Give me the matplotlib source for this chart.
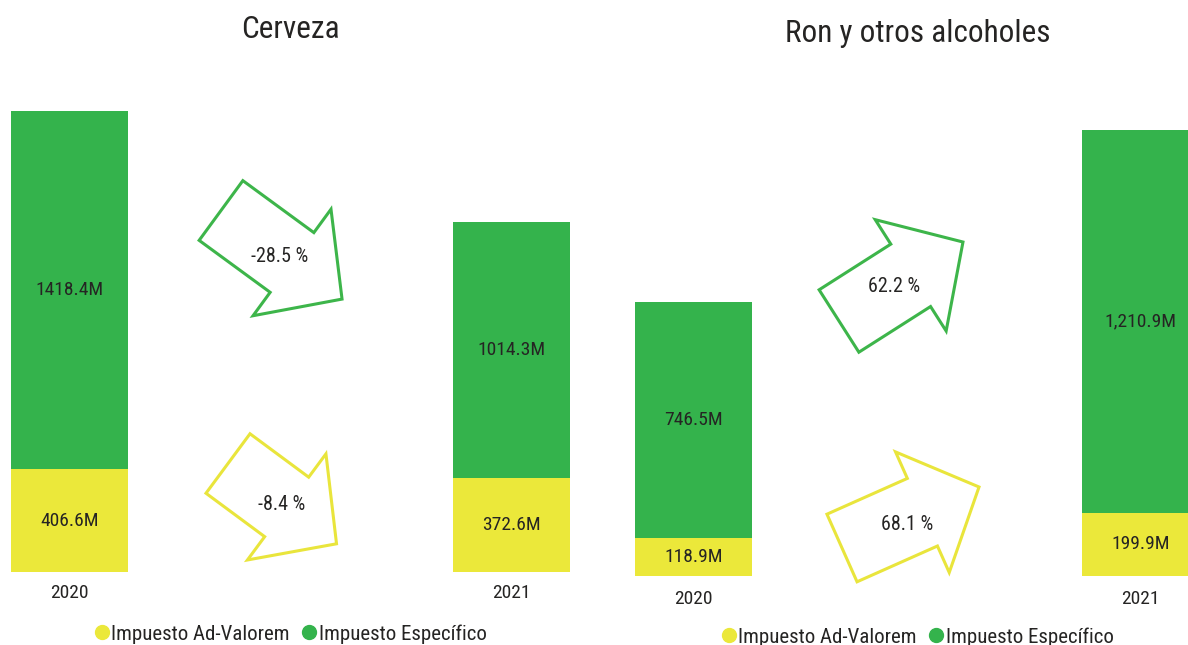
import matplotlib
matplotlib.use("Agg")
import matplotlib.pyplot as plt
from matplotlib import font_manager
from matplotlib.patches import Polygon
from matplotlib.lines import Line2D
import numpy as np

# ---------------- data ----------------
years = ["2020", "2021"]
cerveza_advalorem = [406.6, 372.6]
cerveza_especifico = [1418.4, 1014.3]
ron_advalorem = [118.9, 199.9]
ron_especifico = [746.5, 1210.9]
series_names = ["Impuesto Ad-Valorem", "Impuesto Específico"]
titles = ["Cerveza", "Ron y otros alcoholes"]

# ---------------- style ----------------
YELLOW = "#EBE83A"
GREEN = "#34B34C"
ARROW_GREEN = "#3DB54A"
ARROW_YELLOW = "#E9E53C"
TEXT = "#252423"

available = {f.name for f in font_manager.fontManager.ttflist}
FONT = "DejaVu Sans"
for cand in ["Roboto Condensed", "Liberation Sans Narrow", "DejaVu Sans Condensed", "Roboto"]:
    if cand in available:
        FONT = cand
        break
plt.rcParams["font.family"] = [FONT, "DejaVu Sans"]

W, H = 1188, 645
fig = plt.figure(figsize=(W / 100, H / 100), dpi=100)

LABEL_FS = 14
YEAR_FS = 14
PCT_FS = 14.5
TITLE_FS = 22.5
LEGEND_FS = 15


def px_axes(x0, x1, ytop, ybot):
    return fig.add_axes([x0 / W, 1 - ybot / H, (x1 - x0) / W, (ybot - ytop) / H])


def draw_group(ax, w, adv, esp, fmt, label_pad):
    x = np.arange(len(years))
    ax.bar(x, adv, width=w, color=YELLOW, linewidth=0)
    ax.bar(x, esp, width=w, bottom=adv, color=GREEN, linewidth=0)
    totals = np.array(adv) + np.array(esp)
    ax.set_xlim(-w / 2, len(years) - 1 + w / 2)
    ax.set_ylim(0, totals.max())
    for xi, a, e in zip(x, adv, esp):
        ax.text(xi, a / 2, fmt.format(a), ha="center", va="center", fontsize=LABEL_FS, color=TEXT)
        ax.text(xi, a + e / 2, fmt.format(e), ha="center", va="center", fontsize=LABEL_FS, color=TEXT)
    ax.set_xticks(x)
    ax.set_xticklabels(years, fontsize=YEAR_FS, color=TEXT)
    ax.tick_params(axis="x", length=0, pad=label_pad)
    ax.set_yticks([])
    for s in ax.spines.values():
        s.set_visible(False)
    ax.patch.set_alpha(0)


ax1 = px_axes(11, 570, 111, 572)
ax2 = px_axes(635, 1199, 130, 576)
draw_group(ax1, 117 / 442, cerveza_advalorem, cerveza_especifico, "{:.1f}M", 9)
draw_group(ax2, 117 / 447, ron_advalorem, ron_especifico, "{:,.1f}M", 10)

# titles
fig.text(290 / W, 1 - 30 / H, titles[0], ha="center", va="center", fontsize=TITLE_FS, color=TEXT)
fig.text(918 / W, 1 - 33 / H, titles[1], ha="center", va="center", fontsize=TITLE_FS, color=TEXT)


# arrows (decorative shapes): tail midpoint, angle (deg, y down), length
def arrow(tail, ang, L, color, label, label_pos):
    s, Hh, h = 37, 66, 62
    local = np.array([(0, s), (L - h, s), (L - h, Hh), (L, 0), (L - h, -Hh), (L - h, -s), (0, -s)])
    a = np.deg2rad(ang)
    R = np.array([[np.cos(a), -np.sin(a)], [np.sin(a), np.cos(a)]])
    pts = local @ R.T + np.array(tail)
    pts_fig = np.column_stack([pts[:, 0] / W, 1 - pts[:, 1] / H])
    fig.patches.append(Polygon(pts_fig, closed=True, fill=False, edgecolor=color, linewidth=2.2,
                               transform=fig.transFigure, joinstyle="miter"))
    fig.text(label_pos[0] / W, 1 - label_pos[1] / H, label, ha="center", va="center",
             fontsize=PCT_FS, color=TEXT)


def pct(a, b):
    return "{:.1f} %".format((b / a - 1) * 100)


arrow((221, 210.5), 36.2, 150, ARROW_GREEN, pct(*cerveza_especifico), (280, 256))
arrow((228, 463.5), 36.5, 135, ARROW_YELLOW, pct(*cerveza_advalorem), (282, 505))
arrow((839, 321), -32.5, 147, ARROW_GREEN, pct(*ron_especifico), (894, 286))
arrow((842, 548), -24.0, 150, ARROW_YELLOW, pct(*ron_advalorem), (907, 525))

# legends
handles = [Line2D([], [], marker="o", linestyle="", markersize=10, color=YELLOW),
           Line2D([], [], marker="o", linestyle="", markersize=10, color=GREEN)]
for cx, cy in [(289, 634), (916, 637)]:
    leg = fig.legend(handles, series_names, loc="center", bbox_to_anchor=(cx / W, 1 - cy / H),
                     ncol=2, frameon=False, fontsize=LEGEND_FS, handletextpad=-0.05, columnspacing=0.45,
                     handlelength=1.0, borderpad=0)
    for t in leg.get_texts():
        t.set_color(TEXT)

fig.savefig("out.png", dpi=100, facecolor="white")
